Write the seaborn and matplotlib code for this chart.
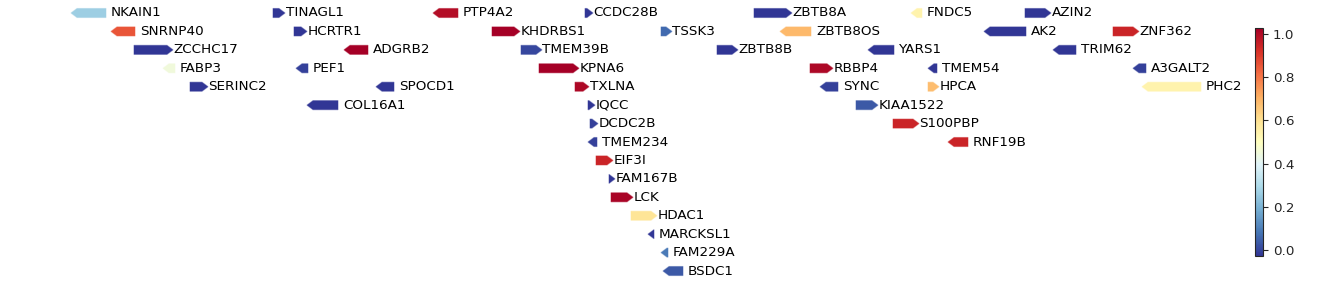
import numpy as np
import matplotlib
matplotlib.use("Agg")
import matplotlib.pyplot as plt
import matplotlib as mpl
from matplotlib.patches import Polygon
import seaborn as sns

sns.set_style("white")
plt.rcParams['font.family'] = ['DejaVu Sans']

# ---- data (positions in arbitrary genomic units) ----
genes = ["NKAIN1", "TINAGL1", "PTP4A2", "SNRNP40", "HCRTR1", "ZCCHC17", "ADGRB2",
         "FABP3", "PEF1", "SERINC2", "SPOCD1", "COL16A1",
         "CCDC28B", "ZBTB8A", "KHDRBS1", "TSSK3", "ZBTB8OS", "TMEM39B", "ZBTB8B",
         "YARS1", "KPNA6", "RBBP4", "TXLNA", "SYNC", "IQCC", "KIAA1522", "DCDC2B",
         "S100PBP", "TMEM234", "RNF19B", "EIF3I", "FAM167B", "LCK", "HDAC1",
         "MARCKSL1", "FAM229A", "BSDC1",
         "FNDC5", "AZIN2", "AK2", "ZNF362", "TRIM62", "TMEM54", "A3GALT2", "HPCA", "PHC2"]
starts = [71, 273, 433, 111, 294, 134, 344,
          163, 296, 190, 376, 307,
          585, 754, 492, 661, 780, 521, 717,
          868, 539, 810, 575, 820, 588, 856, 590,
          893, 588, 948, 596, 609, 611, 631,
          648, 661, 663,
          911, 1025, 984, 1113, 1053, 928, 1133, 928, 1142]
ends = [106, 285, 458, 135, 307, 173, 368,
        175, 308, 208, 394, 338,
        593, 792, 520, 672, 811, 542, 738,
        894, 579, 833, 589, 838, 595, 878, 598,
        919, 597, 968, 613, 615, 633, 657,
        654, 668, 683,
        922, 1051, 1026, 1139, 1076, 937, 1146, 939, 1201]
strands = ["-", "+", "-", "-", "+", "+", "-",
           "-", "-", "+", "-", "-",
           "+", "+", "+", "+", "-", "+", "+",
           "-", "+", "+", "+", "-", "+", "+", "+",
           "+", "-", "-", "+", "+", "+", "+",
           "-", "-", "-",
           "-", "+", "-", "+", "-", "-", "-", "+", "-"]
rows = [0, 0, 0, 1, 1, 2, 2,
        3, 3, 4, 4, 5,
        0, 0, 1, 1, 1, 2, 2,
        2, 3, 3, 4, 4, 5, 5, 6,
        6, 7, 7, 8, 9, 10, 11,
        12, 13, 14,
        0, 0, 1, 1, 2, 3, 3, 4, 4]
scores = [0.26, -0.03, 1.0, 0.86, -0.03, -0.03, 1.03,
          0.45, -0.01, -0.03, -0.03, -0.03,
          -0.03, -0.03, 1.03, 0.06, 0.69, 0.0, -0.03,
          -0.03, 1.03, 1.01, 1.01, -0.01, -0.03, 0.03, -0.01,
          0.95, -0.01, 0.95, 0.95, -0.03, 1.02, 0.59,
          -0.03, 0.09, 0.03,
          0.54, -0.03, -0.03, 0.95, -0.03, -0.03, -0.01, 0.68, 0.54]

cbar_ticks = [0.0, 0.2, 0.4, 0.6, 0.8, 1.0]

# ---- figure ----
W, H = 1338, 285
fig = plt.figure(figsize=(W / 100, H / 100), dpi=100)
ax = fig.add_axes([0, 0, 1, 1])
row_step = 18.43
ax.set_xlim(0, W)
ax.set_ylim((H - 13) / row_step, -13 / row_step)
ax.axis("off")

cmap = sns.color_palette("RdYlBu_r", as_cmap=True)
norm = mpl.colors.Normalize(vmin=min(scores), vmax=max(scores))

bar_h = 0.49
head = 6.0
for g, s, e, st, r, v in zip(genes, starts, ends, strands, rows, scores):
    c = cmap(norm(v))
    hl = min(head, e - s)
    y0, y1 = r - bar_h / 2, r + bar_h / 2
    if st == "+":
        pts = [(s, y0), (e - hl, y0), (e, r), (e - hl, y1), (s, y1)]
        tx = e + 0.5
    else:
        pts = [(e, y0), (s + hl, y0), (s, r), (s + hl, y1), (e, y1)]
        tx = e + 5
    ax.add_patch(Polygon(pts, closed=True, facecolor=c,
                         edgecolor=(*c[:3], 0.45), linewidth=0.8))
    ax.text(tx, r, g, ha="left", va="center", fontsize=9.7, color="black")

cax = fig.add_axes([1255 / W, (H - 256) / H, 8 / W, 228 / H])
sm = mpl.cm.ScalarMappable(norm=norm, cmap=cmap)
cb = fig.colorbar(sm, cax=cax, ticks=cbar_ticks)
cb.ax.tick_params(labelsize=9.7, length=3.5, width=0.8)
cb.outline.set_linewidth(0.8)

fig.savefig("out.png", dpi=100)
